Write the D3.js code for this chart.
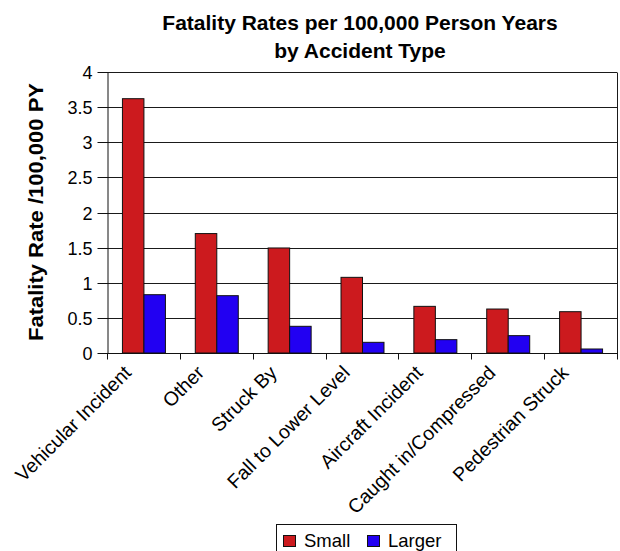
<!DOCTYPE html>
<html>
<head>
<meta charset="utf-8">
<script src="https://cdn.jsdelivr.net/npm/d3@7"></script>
<style>
  html, body { margin: 0; padding: 0; background: #fff; }
  svg { display: block; font-family: "Liberation Sans", Arial, sans-serif; }
</style>
</head>
<body>
<svg id="chart" width="620" height="551"></svg>
<script>
const titleLines = ["Fatality Rates per 100,000 Person Years", "by Accident Type"];
const yAxisTitle = "Fatality Rate /100,000 PY";
const categories = ["Vehicular Incident", "Other", "Struck By", "Fall to Lower Level",
  "Aircraft Incident", "Caught in/Compressed", "Pedestrian Struck"];
const seriesNames = ["Small", "Larger"];
const smallValues = [3.62, 1.70, 1.495, 1.077, 0.664, 0.626, 0.588];
const largerValues = [0.83, 0.816, 0.38, 0.152, 0.19, 0.247, 0.057];
const seriesColors = ["#cc1a1e", "#2200f2"];
const yTicks = [0, 0.5, 1, 1.5, 2, 2.5, 3, 3.5, 4];
const yTickLabels = ["0", "0.5", "1", "1.5", "2", "2.5", "3", "3.5", "4"];

const svg = d3.select("#chart");
const plot = { left: 107, right: 617, top: 72, bottom: 353 };

const x = d3.scaleBand().domain(categories).range([plot.left, plot.right])
  .paddingInner(0.41).paddingOuter(0.205);
const xs = d3.scaleBand().domain(seriesNames).range([0, x.bandwidth()]);
const xEdge = d3.scaleLinear().domain([0, categories.length]).range([plot.left, plot.right]);
const y = d3.scaleLinear().domain([0, 4]).range([plot.bottom, plot.top]);

const crisp = v => Math.round(v) + 0.5;

// gridlines
svg.append("g").selectAll("line").data(yTicks.filter(d => d > 0)).join("line")
  .attr("x1", plot.left).attr("x2", plot.right)
  .attr("y1", d => crisp(y(d))).attr("y2", d => crisp(y(d)))
  .attr("stroke", "#1a1a1a").attr("stroke-width", 1);

// right border
svg.append("line")
  .attr("x1", crisp(plot.right)).attr("x2", crisp(plot.right))
  .attr("y1", crisp(plot.top)).attr("y2", crisp(plot.bottom))
  .attr("stroke", "#1a1a1a");

// bars
const rows = categories.map((c, i) => ({ cat: c, vals: [smallValues[i], largerValues[i]] }));
const groups = svg.append("g").selectAll("g").data(rows).join("g")
  .attr("transform", d => `translate(${x(d.cat)},0)`);
groups.selectAll("rect").data(d => d.vals.map((v, k) => ({ name: seriesNames[k], v, k })))
  .join("rect")
  .attr("x", d => xs(d.name) + 0.5)
  .attr("y", d => y(d.v))
  .attr("width", xs.bandwidth())
  .attr("height", d => y(0) - y(d.v))
  .attr("fill", d => seriesColors[d.k])
  .attr("stroke", "#111").attr("stroke-width", 1);

// y axis
const yAxis = svg.append("g").attr("transform", `translate(${crisp(plot.left)},0)`)
  .call(d3.axisLeft(y).tickValues(yTicks).tickFormat((d, i) => yTickLabels[i])
    .tickSize(10).tickSizeOuter(0).tickPadding(5));
yAxis.select(".domain").attr("stroke", "#111");
yAxis.selectAll(".tick line").attr("stroke", "#111");
yAxis.selectAll(".tick").attr("transform", d => `translate(0,${crisp(y(d))})`);
yAxis.selectAll("text").attr("font-size", 18).attr("fill", "#000")
  .attr("font-family", "'Liberation Sans', Arial, sans-serif").attr("dy", "0.35em");

// x axis line and boundary ticks
svg.append("line")
  .attr("x1", plot.left).attr("x2", plot.right + 1)
  .attr("y1", crisp(plot.bottom)).attr("y2", crisp(plot.bottom))
  .attr("stroke", "#111");
svg.append("g").selectAll("line").data(d3.range(categories.length + 1)).join("line")
  .attr("x1", d => crisp(xEdge(d))).attr("x2", d => crisp(xEdge(d)))
  .attr("y1", crisp(plot.bottom)).attr("y2", crisp(plot.bottom) + 6)
  .attr("stroke", "#111");

// x labels
svg.append("g").selectAll("text").data(categories).join("text")
  .attr("transform", d => `translate(${x(d) + x.bandwidth() / 2 - 11},374) rotate(-45)`)
  .attr("text-anchor", "end")
  .attr("font-size", 19.5).attr("fill", "#000")
  .text(d => d);

// title
svg.append("g").selectAll("text").data(titleLines).join("text")
  .attr("x", 360).attr("y", (d, i) => 30 + i * 28)
  .attr("text-anchor", "middle").attr("font-weight", "bold")
  .attr("font-size", 21).attr("fill", "#000")
  .text(d => d);

// y axis title
svg.append("text")
  .attr("transform", "translate(43,212) rotate(-90)")
  .attr("text-anchor", "middle").attr("font-weight", "bold")
  .attr("font-size", 20).attr("fill", "#000")
  .attr("textLength", 258).attr("lengthAdjust", "spacingAndGlyphs")
  .text(yAxisTitle);

// legend
const legend = svg.append("g");
legend.append("rect").attr("x", 276.5).attr("y", 524.5).attr("width", 180).attr("height", 40)
  .attr("fill", "#fff").attr("stroke", "#111");
const legendX = [283, 367];
const items = legend.selectAll("g.item").data(seriesNames).join("g").attr("class", "item")
  .attr("transform", (d, i) => `translate(${legendX[i]},0)`);
items.append("rect").attr("x", 0.5).attr("y", 535.5).attr("width", 12).attr("height", 11)
  .attr("fill", (d, i) => seriesColors[i]).attr("stroke", "#111");
items.append("text").attr("x", 21).attr("y", 547)
  .attr("font-size", 18.5).attr("fill", "#000").text(d => d);
</script>
</body>
</html>
